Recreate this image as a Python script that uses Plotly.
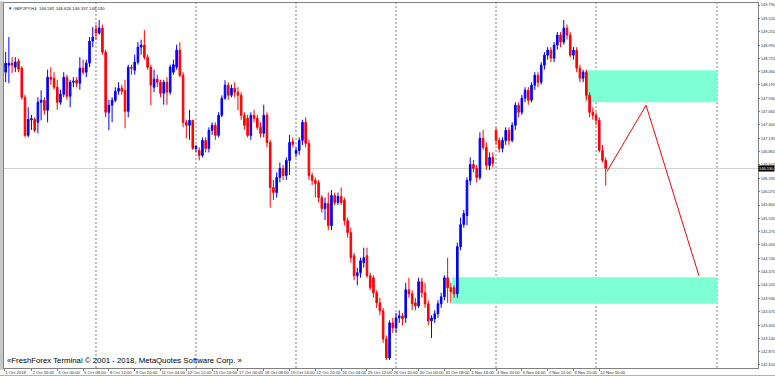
import plotly.graph_objects as go

# ---- data (GBPJPY H4, bar index 0 = 1 Oct 2018 00:00) ----
first_bar = 2
opens = [148.45,148.59,148.63,148.55,148.67,148.53,147.95,147.19,147.50,147.51,147.45,147.85,147.89,147.69,148.35,148.33,148.15,147.85,148.01,148.35,147.97,148.25,148.29,148.23,148.53,148.45,148.63,149.07,
149.31,149.23,149.33,148.85,147.65,147.79,147.89,148.07,148.13,148.09,147.67,148.55,148.49,148.65,148.95,148.99,148.75,148.55,148.15,148.31,148.25,148.03,148.25,148.05,148.45,148.55,148.89,148.39,147.45,147.39,147.49,
146.93,146.89,146.79,147.09,146.93,147.29,147.39,147.19,147.59,147.93,148.19,147.99,148.13,148.05,147.99,147.59,147.53,147.19,147.59,147.53,147.35,147.23,147.59,147.05,146.15,146.05,146.35,146.53,146.39,146.69,147.07,
146.83,146.89,147.09,147.45,147.03,146.39,146.29,146.25,145.95,145.73,145.83,145.39,145.99,145.85,145.97,145.89,145.49,145.25,144.79,144.39,144.45,144.65,144.79,144.39,144.35,144.05,143.85,143.69,143.13,142.75,143.45,
143.35,143.55,143.59,143.55,144.11,144.03,143.85,143.79,144.27,144.05,143.83,143.49,143.53,143.63,143.83,143.97,144.35,144.15,144.15,144.03,144.97,145.41,145.59,146.29,146.61,146.53,146.35,147.13,146.95,146.59,146.75,
147.29,147.09,146.93,147.09,147.29,147.09,147.39,147.79,147.65,147.93,148.09,147.89,148.19,148.39,148.25,148.59,148.79,148.89,148.73,148.99,149.19,149.05,149.33,149.19,148.79,148.89,148.53,148.33,148.45,147.99,147.65,
147.59,147.49,146.89,146.69]
highs = [148.85,149.15,148.75,148.75,148.72,148.57,148.00,147.75,147.60,147.55,147.95,148.09,147.95,148.50,148.55,148.45,148.30,148.10,148.45,148.40,148.30,148.35,148.35,148.75,148.70,148.70,149.15,149.35,
149.40,149.49,149.40,148.90,147.90,147.95,148.15,148.25,148.20,148.30,148.60,148.60,148.80,149.05,149.10,149.29,148.80,148.60,148.50,148.40,148.30,148.30,148.35,148.60,148.70,149.00,149.05,148.45,147.50,147.70,147.50,
147.00,146.95,147.15,147.15,147.35,147.45,147.45,147.65,147.99,148.29,148.25,148.20,148.25,148.15,148.05,147.65,147.60,147.65,147.70,147.60,147.45,147.80,147.65,147.10,146.30,146.45,146.65,146.60,146.75,147.20,147.15,
146.95,147.15,147.50,147.55,147.10,146.45,146.35,146.30,146.00,145.95,146.05,146.10,146.05,146.05,146.15,145.95,145.55,145.35,144.85,144.55,144.75,144.95,144.95,144.45,144.40,144.10,143.95,143.75,143.20,143.50,143.55,
143.65,143.70,143.65,144.25,144.35,144.10,143.95,144.35,144.35,144.25,143.90,143.60,143.70,143.90,144.05,144.40,144.75,144.25,144.20,145.05,145.55,145.70,146.35,146.75,146.70,146.60,147.25,147.30,147.05,146.85,146.85,
147.35,147.15,147.15,147.35,147.35,147.45,147.85,147.85,148.00,148.15,148.15,148.25,148.45,148.45,148.65,148.85,148.95,148.95,149.05,149.25,149.25,149.49,149.40,149.25,148.95,148.95,148.60,148.50,148.50,148.05,147.75,
147.65,147.55,147.00,146.75]
lows = [148.25,148.23,148.43,148.45,148.45,147.90,147.15,147.15,147.30,147.25,147.23,147.49,147.60,147.45,148.20,148.10,147.70,147.80,147.95,147.90,147.75,148.15,148.15,148.10,148.40,148.35,148.55,148.95,
149.10,149.20,148.80,147.55,147.29,147.45,147.85,148.00,148.00,147.33,147.55,148.40,148.40,148.60,148.80,148.70,148.50,147.79,148.05,148.15,147.95,147.80,147.80,148.00,148.40,148.50,148.35,147.35,147.13,147.10,146.90,
146.85,146.69,146.75,146.85,146.85,147.20,147.10,147.15,147.55,147.90,147.90,147.95,147.95,147.69,147.50,147.30,147.15,147.10,147.45,147.30,147.15,147.15,146.95,145.75,145.90,145.95,146.25,146.30,146.30,146.40,146.95,
146.75,146.80,147.00,146.95,146.30,146.20,145.95,145.85,145.65,145.50,145.30,145.30,145.80,145.80,145.80,145.40,145.15,144.65,144.30,144.20,144.35,144.55,144.35,144.10,143.95,143.75,143.60,143.05,142.71,142.71,143.25,
143.25,143.45,143.40,143.45,143.95,143.70,143.70,143.75,143.95,143.75,143.40,143.15,143.45,143.55,143.75,143.90,143.85,143.85,143.95,143.95,144.90,145.35,145.40,146.20,146.45,146.25,146.30,146.90,146.50,146.50,146.55,
147.00,146.85,146.85,147.00,147.00,147.05,147.30,147.55,147.60,147.85,147.80,147.85,148.10,148.15,148.20,148.50,148.70,148.65,148.65,148.90,148.95,149.00,149.10,148.75,148.70,148.45,148.25,148.25,147.90,147.55,147.50,
147.39,146.85,146.65,146.19]
closes = [148.63,148.63,148.59,148.65,148.51,147.95,147.19,147.51,147.52,147.29,147.85,147.89,147.69,148.35,148.31,148.15,147.85,148.01,148.35,147.97,148.25,148.27,148.23,148.53,148.45,148.63,149.07,149.15,
149.23,149.33,148.85,147.65,147.79,147.89,148.07,148.13,148.07,147.67,148.55,148.53,148.65,148.95,148.99,148.75,148.55,148.19,148.31,148.25,148.03,148.25,148.05,148.55,148.60,148.89,148.39,147.45,147.39,147.49,146.93,
146.97,146.79,147.09,146.93,147.29,147.39,147.19,147.59,147.93,148.19,147.99,148.13,148.05,147.99,147.59,147.39,147.19,147.59,147.53,147.35,147.23,147.59,147.05,146.15,146.05,146.35,146.53,146.39,146.69,147.05,147.01,
146.89,147.09,147.45,147.03,146.39,146.29,146.23,145.95,145.73,145.83,145.39,145.99,145.85,145.97,145.85,145.49,145.25,144.75,144.39,144.45,144.69,144.75,144.39,144.15,144.05,143.85,143.69,143.13,142.75,143.45,143.35,
143.55,143.59,143.53,144.11,144.03,143.83,143.79,144.27,144.05,143.83,143.49,143.55,143.63,143.83,143.97,144.35,144.15,144.07,144.03,144.97,145.41,145.63,146.29,146.61,146.53,146.35,147.13,146.95,146.59,146.75,146.63,
147.09,146.93,147.09,147.29,147.09,147.39,147.79,147.65,147.93,148.09,147.89,148.19,148.39,148.25,148.59,148.79,148.89,148.73,148.99,149.19,149.05,149.33,149.19,148.79,148.89,148.53,148.33,148.45,147.99,147.65,147.59,
147.49,146.89,146.69,146.53]

# time-axis labels (bar index -> text)
time_tick_idx = [1.6, 10, 18, 26, 34, 42, 50, 58, 66, 74, 82, 90, 98, 106, 114, 122, 130, 138, 146, 154, 162, 170, 178, 186]
time_tick_text = ["1 Oct 2018", "2 Oct 16:00", "4 Oct 00:00", "5 Oct 08:00", "8 Oct 12:00", "9 Oct 20:00",
                  "11 Oct 04:00", "12 Oct 12:00", "15 Oct 16:00", "17 Oct 00:00", "18 Oct 08:00", "19 Oct 16:00",
                  "22 Oct 20:00", "24 Oct 04:00", "25 Oct 12:00", "26 Oct 20:00", "30 Oct 00:00", "31 Oct 08:00",
                  "1 Nov 16:00", "4 Nov 20:00", "6 Nov 04:00", "7 Nov 12:00", "8 Nov 20:00", "12 Nov 00:00"]
# price-axis labels
price_ticks = [149.790, 149.520, 149.255, 148.990, 148.725, 148.460, 148.195, 147.930, 147.665, 147.400,
               147.135, 146.865, 146.600, 146.335, 146.070, 145.800, 145.535, 145.270, 145.005, 144.740,
               144.470, 144.205, 143.940, 143.670, 143.405, 143.140, 142.875, 142.610]
price_tick_text = ["%.3f" % v for v in price_ticks]

# week separators (bar index)
separators = [30, 61, 92, 123, 154, 185, 222.5]
current_price = 146.530
# zones (bar index range, price range)
zone_upper = dict(x0=181.6, x1=222.5, y0=147.85, y1=148.49)
zone_lower = dict(x0=140.4, x1=222.5, y0=143.83, y1=144.36)
# projected path
proj_x = [188.4, 200.5, 216.9]
proj_y = [146.47, 147.79, 144.39]

title_text = "GBPJPY,H4  146.582 146.626 146.337 146.530"

bar_x = list(range(first_bar, first_bar + len(closes)))

fig = go.Figure()
fig.add_trace(go.Candlestick(
    x=bar_x, open=opens, high=highs, low=lows, close=closes,
    increasing=dict(line=dict(color="#0000FF", width=1), fillcolor="#0000FF"),
    decreasing=dict(line=dict(color="#FF0000", width=1), fillcolor="#FF0000"),
    whiskerwidth=0, showlegend=False, hoverinfo="skip"))
fig.add_trace(go.Scatter(x=proj_x, y=proj_y, mode="lines",
                         line=dict(color="#FF0000", width=1), showlegend=False, hoverinfo="skip"))

shapes = []
for s in separators:
    shapes.append(dict(type="line", xref="x", yref="paper", x0=s, x1=s, y0=0, y1=1,
                       line=dict(color="#7f7f7f", width=1, dash="2px,2px"), layer="below"))
shapes.append(dict(type="line", xref="paper", yref="y", x0=0, x1=1, y0=current_price, y1=current_price,
                   line=dict(color="#d0d0d0", width=1), layer="below"))
for z in (zone_upper, zone_lower):
    shapes.append(dict(type="rect", xref="x", yref="y", **z, fillcolor="#7FFFD4",
                       line=dict(width=0), layer="below"))
# window frame lines (left strip and bottom border)
shapes.append(dict(type="rect", xref="paper", yref="paper", x0=-0.0053, x1=-0.0013, y0=-0.005, y1=1.005,
                   fillcolor="#c8c8c8", line=dict(width=0)))
shapes.append(dict(type="line", xref="paper", yref="paper", x0=-0.006, x1=1.03, y0=-0.0205, y1=-0.0205,
                   line=dict(color="#b0b0b0", width=1)))

FONT = "Liberation Sans, Arial, sans-serif"
fig.update_layout(
    width=775, height=377, margin=dict(l=4, r=17, t=3, b=9),
    paper_bgcolor="white", plot_bgcolor="white",
    shapes=shapes, showlegend=False, hovermode=False,
    xaxis=dict(range=[1.49, 235.2], rangeslider=dict(visible=False), showgrid=False, zeroline=False,
               showline=True, linecolor="#808080", linewidth=1, mirror=True, automargin=False,
               tickmode="array", tickvals=time_tick_idx, ticktext=time_tick_text, tickangle=0,
               ticks="outside", ticklen=2, tickcolor="#808080",
               ticklabelposition="outside right",
               tickfont=dict(size=4.2, color="#303030", family=FONT)),
    yaxis=dict(range=[142.55, 149.83], side="right", showgrid=False, zeroline=False,
               showline=True, linecolor="#808080", linewidth=1, mirror=True, automargin=False,
               tickmode="array", tickvals=price_ticks, ticktext=price_tick_text,
               ticks="outside", ticklen=1, tickcolor="#808080",
               tickfont=dict(size=4.0, color="#303030", family=FONT)),
    annotations=[
        dict(xref="paper", yref="paper", x=0.003, y=0.997, xanchor="left", yanchor="top",
             text="\u25bc " + title_text, showarrow=False, font=dict(size=4.3, color="#202020", family=FONT)),
        dict(xref="paper", yref="paper", x=0.0015, y=0.004, xanchor="left", yanchor="bottom",
             text="\u00abFreshForex Terminal \u00a9 2001 - 2018, MetaQuotes Software Corp. \u00bb",
             showarrow=False, font=dict(size=7.8, color="#000000", family=FONT)),
        dict(xref="paper", yref="y", x=1.0, y=current_price, xanchor="left", yanchor="middle",
             text="%.3f" % current_price, showarrow=False, bgcolor="#000000", borderpad=0,
             font=dict(size=4.0, color="#ffffff", family=FONT)),
    ],
)
fig.write_html("out.html", config={"displayModeBar": False, "staticPlot": True},
               post_script="document.body.style.margin='0px';document.body.style.overflow='hidden';")
